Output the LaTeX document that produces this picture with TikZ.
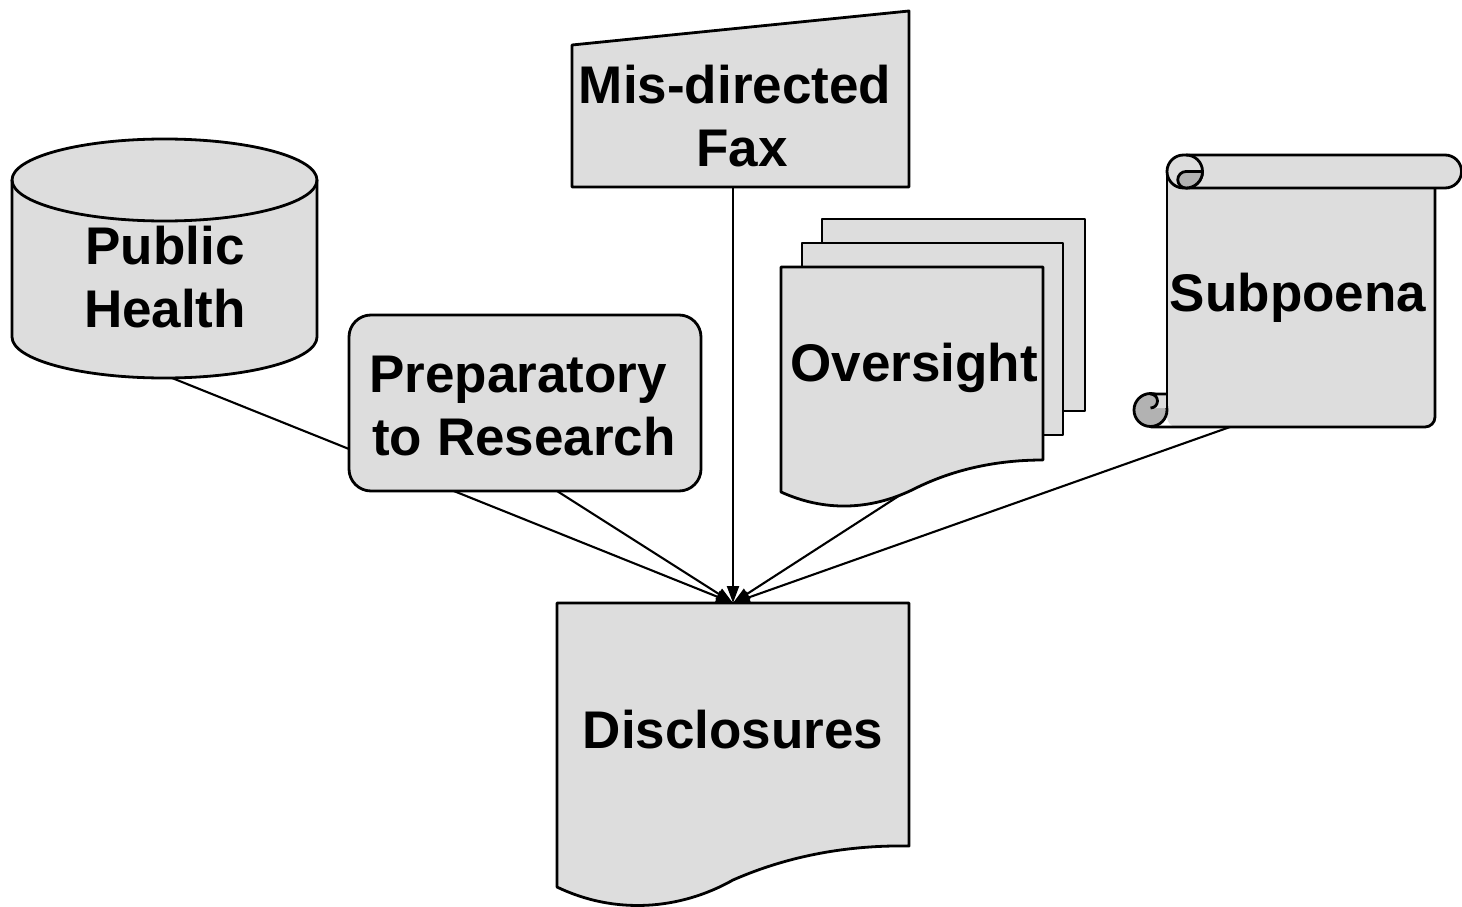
\documentclass[tikz,border=0pt]{standalone}
\usepackage{fontspec}
\setmainfont{Liberation Sans}
\usetikzlibrary{arrows.meta}
\pgfdeclarelayer{bg}\pgfdeclarelayer{mid}\pgfdeclarelayer{shp}
\pgfsetlayers{bg,mid,shp,main}
\definecolor{boxfill}{HTML}{DDDDDD}
\definecolor{rollfill}{HTML}{B2B2B2}
\tikzset{
 shapebox/.style={draw=black, fill=boxfill, line width=2.8pt, line join=round},
 rollbox/.style={draw=black, fill=rollfill, line width=2.8pt, line join=round},
 edgeline/.style={draw=black, line width=2.8pt, line join=round},
 lbl/.style={font=\fontsize{53}{63}\selectfont\bfseries, align=center, inner sep=0pt},
 link/.style={draw=black, line width=2.1pt, -{Triangle[length=17pt,width=12pt]}}
}
\begin{document}
\begin{tikzpicture}[x=1pt,y=-1pt]
\useasboundingbox (0,0) rectangle (1462,907);
% ---- text nodes
\node[lbl] (ph)   at (165,277) {Public\\Health};
\node[lbl] (prep) at (524,406) {Preparatory\hspace*{12pt}\\to Research};
\node[lbl] (fax)  at (735,116) {Mis-directed\\\hspace*{14pt}Fax};
\node[lbl] (over) at (914,368) {Oversight};
\node[lbl] (subp) at (1298,298) {Subpoena};
\node[lbl] (disc) at (733,730) {Disclosures};
% ---- connector ends
\coordinate (phB)   at (172,378);
\coordinate (prepB) at (557,491);
\coordinate (faxB)  at (733,187);
\coordinate (overB) at (908,490);
\coordinate (subB)  at (1230,427);
\coordinate (discT) at (733,603);
% ---- Disclosures document
\begin{pgfonlayer}{bg}
\path[shapebox] (557,603) -- (909,603) -- (909,846)
  .. controls (850,845) and (790,855) .. (733,880)
  .. controls (680,910) and (615,915) .. (557,887) -- cycle;
\end{pgfonlayer}
% ---- connectors
\begin{pgfonlayer}{mid}
\draw[link] (phB) -- (discT);
\draw[link] (prepB) -- (discT);
\draw[link] (faxB) -- (discT);
\draw[link] (overB) -- (discT);
\draw[link] (subB) -- (discT);
\end{pgfonlayer}
% ---- other shapes
\begin{pgfonlayer}{shp}
% Public Health cylinder
\path[shapebox] (12,180) -- (12,337)
  arc[start angle=180, end angle=0, x radius=152.5, y radius=41]
  -- (317,180)
  arc[start angle=0, end angle=-180, x radius=152.5, y radius=41] -- cycle;
\path[edgeline] (12,180) arc[start angle=180, end angle=0, x radius=152.5, y radius=41];
% Preparatory box
\path[shapebox, rounded corners=22] (349,315) rectangle (701,491);
% Mis-directed fax (manual input)
\path[shapebox] (572,45) -- (909,11) -- (909,187) -- (572,187) -- cycle;
% Oversight multi-document
\path[shapebox] (822,219) rectangle (1085,411);
\path[shapebox] (802,243) rectangle (1063,435);
\path[shapebox] (781,267) -- (1043,267) -- (1043,460)
  .. controls (1000,460) and (955,468) .. (912,490)
  .. controls (870,510) and (825,512) .. (781,492) -- cycle;
% Subpoena scroll
\fill[boxfill, rounded corners=10] (1167,171.5) -- (1435,171.5) -- (1435,427) -- (1167,427) -- cycle;
\path[edgeline, rounded corners=10] (1150.5,427) -- (1435,427) -- (1435,188);
\path[edgeline] (1167,171.5) -- (1167,410.5);
\path[shapebox] (1183.5,155) -- (1445,155)
  arc[start angle=-90, end angle=90, radius=16.5]
  -- (1183.5,188)
  arc[start angle=90, end angle=270, radius=16.5] -- cycle;
\path[edgeline] (1186,155) arc[start angle=-90, end angle=90, radius=16.5];
\path[rollbox] (1186,171.5) -- (1202.5,171.5)
  arc[start angle=0, end angle=90, radius=16.5]
  arc[start angle=90, end angle=270, radius=8.25] -- cycle;
\path[rollbox] (1150.5,410) circle[radius=16.5];
\fill[boxfill] (1150.5,394) -- (1167,394) -- (1167,408) -- (1150.5,408)
  arc[start angle=90, end angle=-90, radius=7] -- cycle;
\path[edgeline] (1150.5,408) arc[start angle=90, end angle=-90, radius=7] -- (1167,394);
\path[edgeline] (1167,394) -- (1167,410.5);
\end{pgfonlayer}
\end{tikzpicture}
\end{document}
